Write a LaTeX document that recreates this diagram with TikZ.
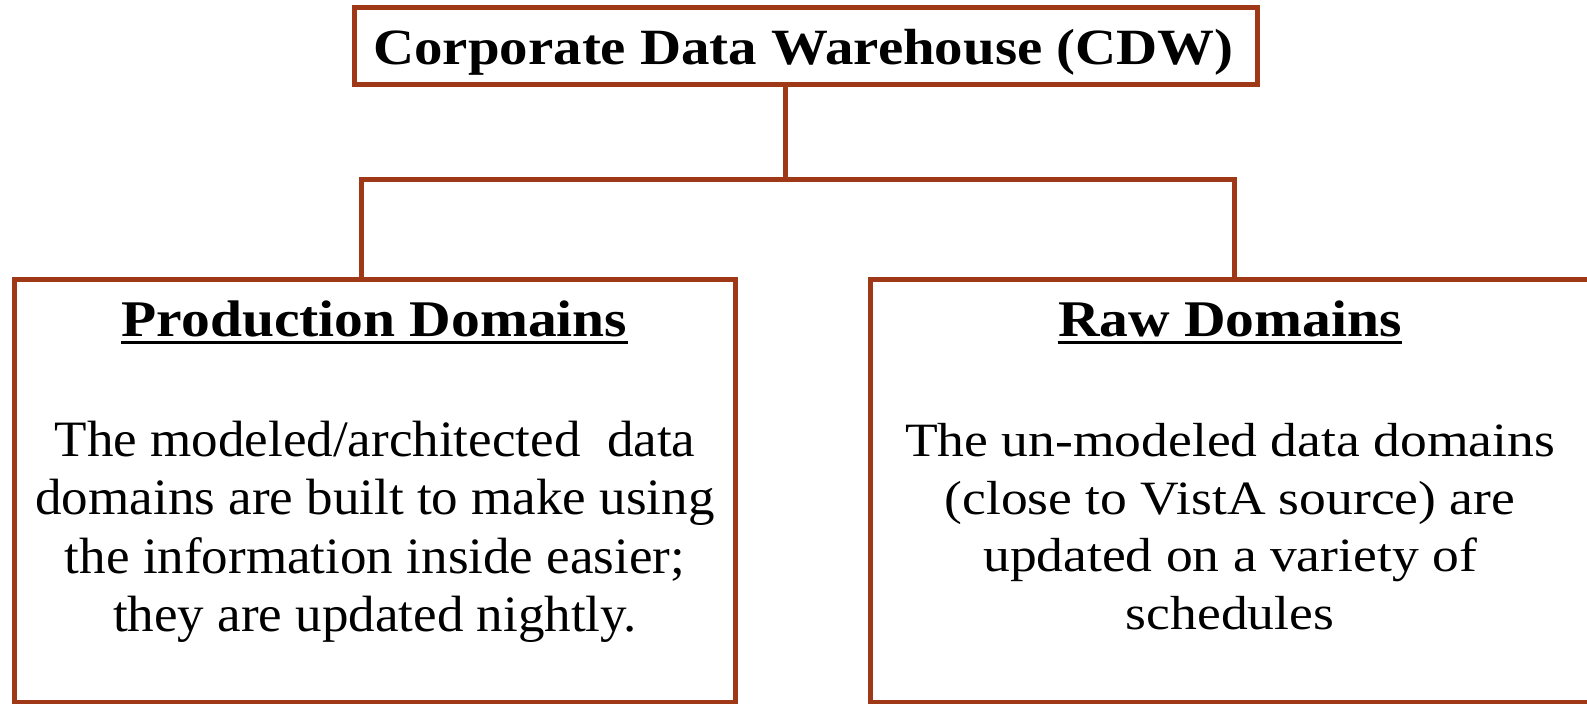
\documentclass[tikz,border=0pt]{standalone}
\usepackage{fontspec}
\setmainfont{Liberation Serif}
\newfontfamily\geo[FakeStretch=1.12]{Liberation Serif}
\newfontfamily\tms[FakeStretch=1.04]{Liberation Serif}
\definecolor{rust}{RGB}{158,56,22}
\tikzset{
  frame/.style={draw=rust, line width=2.5pt, line join=miter, inner sep=0pt},
  wire/.style={draw=rust, line width=2.5pt, line join=miter},
  headline/.style={anchor=base, inner sep=0pt, font=\geo\bfseries\fontsize{25.7}{30}\selectfont},
  bodytext/.style={anchor=base, inner sep=0pt, align=center},
  uline/.style={draw=black, line width=1.5pt}
}
\begin{document}
\begin{tikzpicture}[x=0.5pt, y=0.5pt]
\useasboundingbox (0,0) rectangle (1587,704);

% boxes (centre-line geometry, pixel units, y measured from the bottom)
\node[frame, minimum width=903*0.5pt, minimum height=77*0.5pt] (cdw) at (806,704-46) {};
\node[frame, minimum width=721*0.5pt, minimum height=423*0.5pt] (prod) at (374.5,704-491) {};
\node[frame, minimum width=720*0.5pt, minimum height=423*0.5pt] (raw) at (1230,704-491) {};

% texts
\node[headline, font=\geo\bfseries\fontsize{25.4}{30}\selectfont] (cdwt) at (803.5,704-65) {Corporate Data Warehouse (CDW)};
\node[headline] (prodh) at (374.5,704-337) {Production Domains};
\node[headline] (rawh) at (1230,704-337) {Raw Domains};
\draw[uline] ([yshift=-3pt]prodh.base west) -- ([yshift=-3pt]prodh.base east);
\draw[uline] ([yshift=-3pt]rawh.base west) -- ([yshift=-3pt]rawh.base east);

\node[bodytext, anchor=north, font=\tms\fontsize{25.5}{29.1}\selectfont] (prodb) at (375,704-421)
  {The modeled/architected\ \ data\\domains are built to make using\\the information inside easier;\\they are updated nightly.};
\node[bodytext, anchor=north, font=\geo\fontsize{23.9}{28.8}\selectfont] (rawb) at (1230,704-423)
  {The un-modeled data domains\\(close to VistA source) are\\updated on a variety of\\schedules};

% tree connectors
\coordinate (split) at (785,704-180);
\coordinate (legL) at (361,704-180);
\coordinate (legR) at (1234,704-180);
\draw[wire] (cdw.south -| split) -- (split);
\draw[wire] (legL |- prod.north) -- (legL) -- (legR) -- (legR |- raw.north);
\end{tikzpicture}
\end{document}
